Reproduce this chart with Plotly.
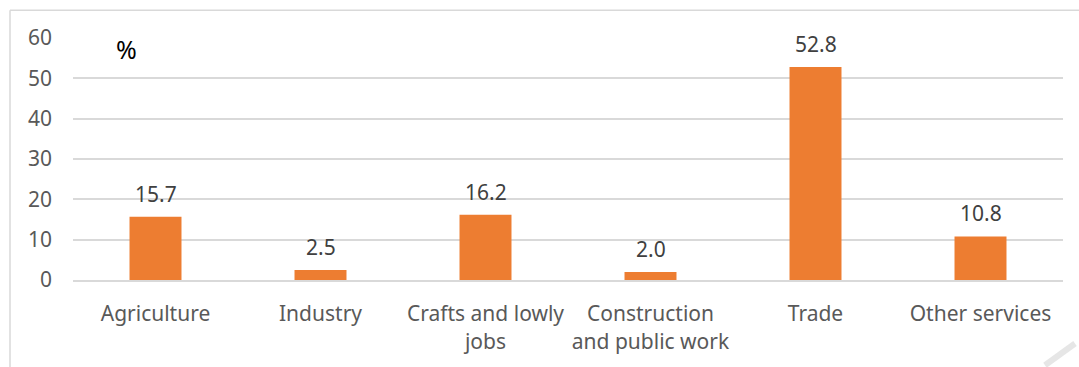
import plotly.graph_objects as go

categories = ["Agriculture", "Industry", "Crafts and lowly<br>jobs",
              "Construction<br>and public work", "Trade", "Other services"]
shares = [15.7, 2.5, 16.2, 2.0, 52.8, 10.8]
y_ticks = [0, 10, 20, 30, 40, 50, 60]

W, H = 1079, 367
L, R, T, B = 73, 16, 38, 85
pw, ph = W - L - R, H - T - B

def px_x(x):
    return (x - L) / pw

def px_y(y):
    return 1 - (y - T) / ph

font_family = "'Noto Sans', sans-serif"

fig = go.Figure(go.Bar(
    x=categories,
    y=shares,
    marker=dict(color="#ED7D31", line=dict(width=0)),
    width=0.315,
    hoverinfo="x+y",
))

# value labels above each bar
value_labels = [
    dict(text=f"{v:.1f}", x=c, y=v, xref="x", yref="y",
         yanchor="bottom", yshift=7, showarrow=False,
         font=dict(size=21, color="#404040", family=font_family))
    for c, v in zip(categories, shares)
]

fig.update_layout(
    width=W, height=H,
    margin=dict(l=L, r=R, t=T, b=B),
    paper_bgcolor="white",
    plot_bgcolor="white",
    font=dict(family=font_family, color="#595959", size=21),
    showlegend=False,
    xaxis=dict(showgrid=False, showline=True, linecolor="#D9D9D9", linewidth=2,
               ticks="", ticklabelstandoff=14,
               tickfont=dict(size=21, color="#595959")),
    yaxis=dict(range=[0, 60], tickvals=y_ticks, showgrid=True,
               gridcolor="#D9D9D9", gridwidth=2, zeroline=False,
               showline=False, ticks="", ticklabelstandoff=20,
               tickfont=dict(size=21, color="#595959")),
    annotations=value_labels + [
        dict(text="%", x=px_x(126), y=px_y(49), xref="paper", yref="paper",
             xanchor="center", yanchor="middle", showarrow=False,
             font=dict(size=25, color="black", family=font_family))
    ],
    shapes=[
        dict(type="line", xref="paper", yref="paper",
             x0=px_x(10), x1=px_x(1100), y0=px_y(10), y1=px_y(10),
             line=dict(color="#D9D9D9", width=1.5)),
        dict(type="line", xref="paper", yref="paper",
             x0=px_x(10), x1=px_x(10), y0=px_y(10), y1=px_y(380),
             line=dict(color="#D9D9D9", width=1.5)),
        dict(type="line", xref="paper", yref="paper",
             x0=px_x(1045), x1=px_x(1075), y0=px_y(368), y1=px_y(346),
             line=dict(color="#E6E6E6", width=6)),
    ],
)

fig.write_html("out.html")
